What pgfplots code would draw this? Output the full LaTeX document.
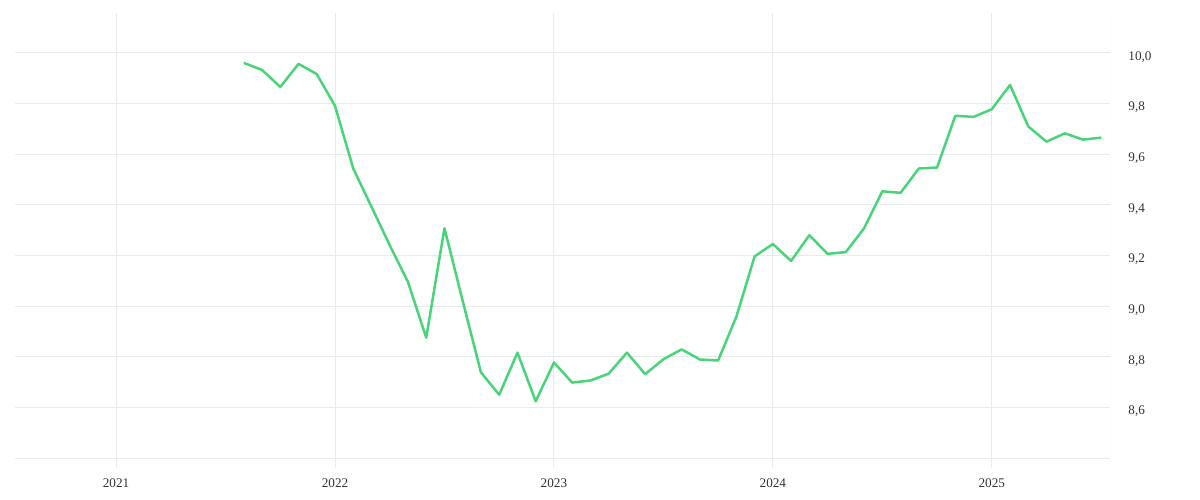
\documentclass[border=0pt]{standalone}
\usepackage{fontspec}
\setmainfont{Liberation Serif}
\usepackage{pgfplots}
\pgfplotsset{compat=1.18}

\definecolor{linegreen}{RGB}{74,212,122}
\definecolor{gridgray}{RGB}{234,234,234}
\definecolor{labelgray}{RGB}{51,51,51}

% months counted from Jan 2021 (0) ; value
\pgfplotstableread{
m     v
7     9.960
8     9.932
9     9.865
10    9.956
11    9.916
12    9.790
13    9.543
14    9.392
15    9.240
16    9.095
17    8.875
18    9.307
19    9.020
20    8.738
21    8.650
22    8.816
23    8.624
24    8.777
25    8.698
26    8.706
27    8.733
28    8.816
29    8.731
30    8.790
31    8.829
32    8.789
33    8.785
34    8.958
35    9.196
36    9.245
37    9.178
38    9.280
39    9.206
40    9.213
41    9.307
42    9.453
43    9.447
44    9.543
45    9.547
46    9.751
47    9.747
48    9.777
49    9.873
50    9.709
51    9.649
52    9.682
53    9.657
54    9.665
}\series

\begin{document}
\begin{tikzpicture}
    \path[use as bounding box] (-7.5bp,-16bp) rectangle (592.5bp,234bp);
    \begin{axis}[
        scale only axis,
        width             = 547.5bp,
        height            = 227.5bp,
        xmin              = -5.54,
        xmax              = 54.48,
        ymin              = 8.3606,
        ymax              = 10.157,
        axis line style   = {draw=none},
        major tick length = 0pt,
        grid              = major,
        major grid style  = {color=gridgray, line width=0.5bp},
        xtick             = {0, 12, 24, 36, 48},
        xticklabels       = {2021, 2022, 2023, 2024, 2025},
        ytick             = {8.4, 8.6, 8.8, 9.0, 9.2, 9.4, 9.6, 9.8, 10.0},
        yticklabels       = {, {8,6}, {8,8}, {9,0}, {9,2}, {9,4}, {9,6}, {9,8}, {10,0}},
        ytick pos         = right,
        yticklabel pos    = right,
        ticklabel style   = {font=\fontsize{6.6bp}{8bp}\selectfont, text=labelgray, inner sep=0pt},
        xticklabel style  = {anchor=north, yshift=-5bp},
        yticklabel style  = {anchor=west, xshift=9bp, yshift=-2bp},
        /pgf/number format/assume math mode=true]

        \draw[gridgray, line width=0.5bp] (rel axis cs:1,0) -- (rel axis cs:1,1);

        \addplot[
            line width = 1.25bp,
            mark       = none,
            draw       = linegreen,
            line join  = round]
            table[x=m, y=v] {\series};
    \end{axis}
\end{tikzpicture}
\end{document}
